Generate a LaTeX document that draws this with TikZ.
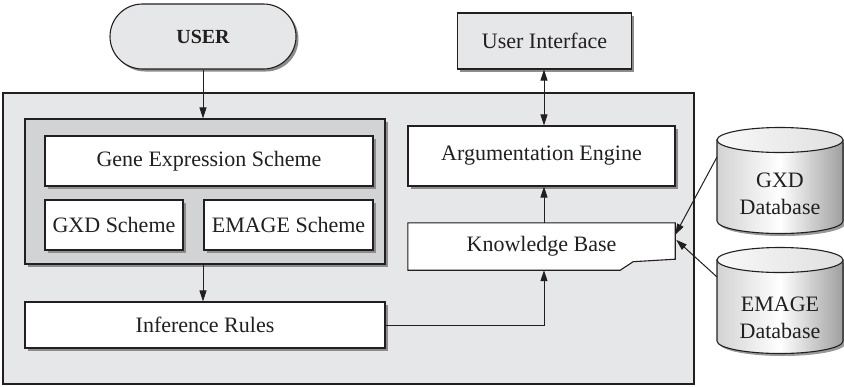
\documentclass[tikz,border=0pt]{standalone}
\usepackage{fontspec}
\setmainfont{Liberation Serif}
\usetikzlibrary{shadows,arrows.meta,calc}
\definecolor{lightbg}{HTML}{E6E7E8}
\definecolor{midbg}{HTML}{D1D3D4}
\definecolor{ink}{HTML}{231F20}
\begin{document}
\begin{tikzpicture}[x=1pt,y=-1pt, font=\fontsize{22}{26}\selectfont,
  arr/.style={-{Triangle[length=11pt,width=7pt]}, line width=1pt, draw=ink},
  darr/.style={{Triangle[length=11pt,width=7pt]}-{Triangle[length=11pt,width=7pt]}, line width=1pt, draw=ink},
  plain/.style={draw=ink, line width=1.1pt, inner sep=0pt, text=ink},
  shad/.style={drop shadow={shadow xshift=2.5pt,shadow yshift=-2.5pt,fill=black!45,opacity=1}},
  dbtext/.style={align=center, text=ink, font=\fontsize{22}{27}\selectfont},
  db/.pic={
    \fill[black!40] (-60.5,2.5) -- (-60.5,83.5) arc[start angle=180,end angle=0,x radius=63,y radius=12.5] -- (65.5,2.5) -- cycle;
    \path[draw=ink, line width=1.1pt, left color=gray!35, right color=gray!75, middle color=white]
      (-63,0) -- (-63,81) arc[start angle=180,end angle=0,x radius=63,y radius=12.5] -- (63,0) -- cycle;
    \path[draw=ink, line width=1.1pt, left color=gray!5, right color=gray!25] (0,0) ellipse [x radius=63, y radius=12.5];
  }
]
\useasboundingbox (0,0) rectangle (844,386);

% outer system box
\node[plain, fill=lightbg, minimum width=691pt, minimum height=291pt] (outer) at (348.5,238.5) {};

% left column
\node[plain, fill=midbg, shad, minimum width=360pt, minimum height=145pt] (inner) at (205,191.5) {};
\node[plain, fill=white, shad, minimum width=328pt, minimum height=50pt] (ges) at (209,161) {Gene Expression Scheme};
\node[plain, fill=white, shad, minimum width=138pt, minimum height=50pt] (gxds) at (114,225) {GXD Scheme};
\node[plain, fill=white, shad, minimum width=169pt, minimum height=50pt] (emages) at (288.5,225) {EMAGE Scheme};
\node[plain, fill=white, shad, minimum width=360pt, minimum height=46pt] (ir) at (205,325) {Inference Rules};

% user
\node[plain, fill=lightbg, shad, rounded corners=32.5pt, minimum width=186pt, minimum height=65pt,
      font=\fontsize{20}{24}\selectfont\bfseries] (user) at (203,36.5) {USER};

% right column
\node[plain, fill=lightbg, shad, minimum width=174pt, minimum height=56pt] (ui) at (544.5,41) {User Interface};
\node[plain, fill=white, shad, minimum width=267pt, minimum height=60pt] (ae) at (541.5,156) {Argumentation Engine};
\node[inner sep=0pt, minimum width=267pt, minimum height=47pt] (kb) at (541.5,246.5) {};
\fill[black!45, shift={(2.5,2.5)}] (kb.north west) -- (kb.north east) -- ($(kb.south east)+(0,-11)$)
   -- ($(kb.south east)+(-42,-8.5)$) -- ($(kb.south east)+(-55,0)$) -- (kb.south west) -- cycle;
\draw[fill=white, draw=ink, line width=1.1pt] (kb.north west) -- (kb.north east) -- ($(kb.south east)+(0,-11)$)
   -- ($(kb.south east)+(-42,-8.5)$) -- ($(kb.south east)+(-55,0)$) -- (kb.south west) -- cycle;
\node[text=ink] (kbt) at (kb.center) {Knowledge Base};

% databases
\pic at (780,140) {db};
\node[dbtext] (gxd) at (780,193.5) {GXD\\Database};
\pic at (780,260) {db};
\node[dbtext] (emage) at (780,317.5) {EMAGE\\Database};
\coordinate (gxdl) at (717,157);
\coordinate (emagel) at (717,277);

% connectors
\draw[arr] (user.south) -- (user.south |- inner.north);
\draw[arr] (inner.south -| user.south) -- (ir.north -| user.south);
\draw[darr] (ui.south -| 544,0) -- (ae.north -| 544,0);
\draw[arr] (kb.north -| 544,0) -- (ae.south -| 544,0);
\draw[arr] (ir.east) -| (kb.south -| 544,0);
\draw[arr] (gxdl) -- ($(kb.north east)+(0,12)$);
\draw[arr] (emagel) -- ($(kb.north east)+(1,17)$);
\end{tikzpicture}
\end{document}
